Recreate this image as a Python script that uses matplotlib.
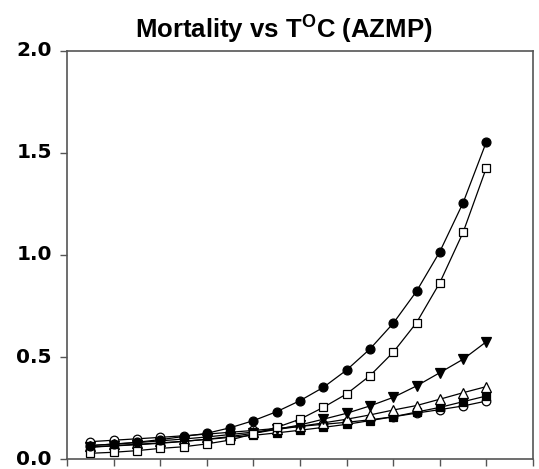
import matplotlib
matplotlib.use("Agg")
import matplotlib.pyplot as plt

plt.rcParams['font.family'] = ['Liberation Sans', 'DejaVu Sans']
plt.rcParams['mathtext.fontset'] = 'custom'
plt.rcParams['mathtext.bf'] = 'Liberation Sans:bold'
plt.rcParams['mathtext.rm'] = 'Liberation Sans:bold'

# temperature steps (half-tick positions)
temps = [0.5, 1.0, 1.5, 2.0, 2.5, 3.0, 3.5, 4.0, 4.5, 5.0, 5.5, 6.0, 6.5, 7.0, 7.5, 8.0, 8.5, 9.0]

filled_circle = [0.066, 0.073, 0.082, 0.095, 0.110, 0.126, 0.153, 0.188, 0.232, 0.286,
                 0.351, 0.436, 0.539, 0.665, 0.822, 1.016, 1.256, 1.555]
open_square = [0.028, 0.033, 0.041, 0.052, 0.060, 0.074, 0.093, 0.123, 0.155, 0.195,
               0.253, 0.319, 0.408, 0.523, 0.668, 0.864, 1.111, 1.428]
filled_tri_down = [0.058, 0.064, 0.070, 0.077, 0.086, 0.097, 0.110, 0.126, 0.145, 0.167,
                   0.195, 0.224, 0.260, 0.302, 0.358, 0.423, 0.489, 0.575]
open_tri_up = [0.066, 0.073, 0.080, 0.089, 0.098, 0.108, 0.120, 0.132, 0.145, 0.160,
               0.177, 0.195, 0.216, 0.240, 0.262, 0.293, 0.325, 0.355]
filled_square = [0.058, 0.066, 0.072, 0.079, 0.087, 0.096, 0.106, 0.116, 0.128, 0.141,
                 0.155, 0.170, 0.188, 0.207, 0.230, 0.253, 0.281, 0.309]
open_circle = [0.085, 0.092, 0.099, 0.106, 0.114, 0.122, 0.131, 0.140, 0.150, 0.160,
               0.170, 0.180, 0.192, 0.207, 0.225, 0.242, 0.260, 0.284]

y_ticks = [0.0, 0.5, 1.0, 1.5, 2.0]
y_ticklabels = ['0.0', '0.5', '1.0', '1.5', '2.0']
x_ticks = [0, 1, 2, 3, 4, 5, 6, 7, 8, 9, 10]

fig = plt.figure(figsize=(5.39, 4.69), dpi=100)
ax = fig.add_axes([67/539, 1 - 459/469, (533 - 67)/539, (459 - 51)/469])

lw = 0.9
series = [
    (open_circle, 'o', 'white', 6.2),
    (filled_square, 's', 'black', 5.6),
    (open_tri_up, '^', 'white', 6.6),
    (filled_tri_down, 'v', 'black', 6.6),
    (open_square, 's', 'white', 5.6),
    (filled_circle, 'o', 'black', 6.4),
]
for vals, m, fc, ms in series:
    ax.plot(temps, vals, color='black', lw=lw, marker=m, markersize=ms,
            markerfacecolor=fc, markeredgecolor='black', markeredgewidth=0.9,
            clip_on=False, zorder=3)

ax.set_xlim(0, 10)
ax.set_ylim(0, 2.0)
ax.set_xticks(x_ticks)
ax.set_xticklabels([])
ax.set_yticks(y_ticks)
ax.set_yticklabels(y_ticklabels, fontsize=14.5, fontweight='bold',
                   family=['DejaVu Sans'], va='center')
ax.tick_params(axis='both', direction='out', length=5, width=1, color='#555555',
               top=False, right=False, pad=6)
for s in ax.spines.values():
    s.set_color('#555555')
    s.set_linewidth(1.2)

fig.text(284/539, 1 - 38/469, r'Mortality vs T$^{\mathbf{O}}$C (AZMP)',
         ha='center', va='baseline', fontsize=18.5, fontweight='bold')

fig.savefig('out.png', dpi=100)
